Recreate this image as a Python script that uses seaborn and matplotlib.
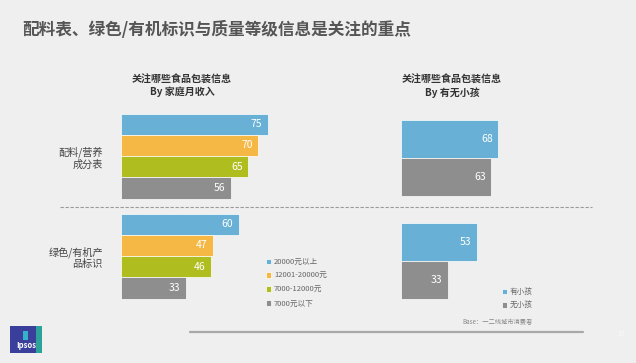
import pandas as pd
import numpy as np
import matplotlib.pyplot as plt
import seaborn as sns
from matplotlib.patches import Rectangle
from matplotlib.lines import Line2D

# 数据
items = ['配料/营养\n成分表', '绿色/有机产\n品标识']
income_levels = ['20000元以上', '12001-20000元', '7000-12000元', '7000元以下']
income_values = [[75, 70, 65, 56],   # 配料/营养成分表
                 [60, 47, 46, 33]]   # 绿色/有机产品标识
kid_levels = ['有小孩', '无小孩']
kid_values = [[68, 63],
              [53, 33]]

income_colors = ['#68B0D5', '#F6B845', '#AFBD1F', '#8E8E8E']
kid_colors = ['#68B0D5', '#8E8E8E']

title = '配料表、绿色/有机标识与质量等级信息是关注的重点'
sub_left = '关注哪些食品包装信息\nBy 家庭月收入'
sub_right = '关注哪些食品包装信息\nBy 有无小孩'

W, H = 636, 363
BG = '#EFEFEF'

sns.set_theme(style='white')
plt.rcParams['font.family'] = ['Noto Sans CJK SC', 'DejaVu Sans']
plt.rcParams['axes.unicode_minus'] = False


def px_axes(fig, x0, y0, x1, y1):
    # 用像素坐标建坐标轴（原点在左上）
    return fig.add_axes([x0 / W, 1 - y1 / H, (x1 - x0) / W, (y1 - y0) / H])


def long_table(values, levels):
    rows = []
    for i, item in enumerate(items):
        for j, lv in enumerate(levels):
            rows.append({'item': item, 'group': lv, 'value': values[i][j]})
    return pd.DataFrame(rows)


def label_bars(ax):
    for c in ax.containers:
        for p in c:
            ax.annotate(f'{p.get_width():.0f}',
                        xy=(p.get_x() + p.get_width(), p.get_y() + p.get_height() / 2),
                        xytext=(-4, 0), textcoords='offset points',
                        ha='right', va='center', color='white', fontsize=7.5)


def clean(ax):
    ax.set_facecolor('none')
    for s in ax.spines.values():
        s.set_visible(False)
    ax.set_xlabel('')
    ax.set_ylabel('')
    ax.set_xticks([])


fig = plt.figure(figsize=(W / 100, H / 100), dpi=100, facecolor=BG)

# 标题
fig.text(22 / W, 1 - 30 / H, title, fontsize=12, fontweight='bold',
         color='#555555', va='center', ha='left')

# 左图：家庭月收入
df_inc = long_table(income_values, income_levels)
ax1 = px_axes(fig, 121, 106, 317, 306)
sns.barplot(data=df_inc, y='item', x='value', hue='group', orient='h',
            hue_order=income_levels, palette=income_colors, width=0.85,
            saturation=1, edgecolor='white', linewidth=0.5, ax=ax1)
ax1.set_xlim(0, 100)
ax1.set_ylim(1.5, -0.5)
clean(ax1)
ax1.tick_params(axis='y', length=0, pad=13, labelsize=7.3, labelcolor='#444444')
for t in ax1.get_yticklabels():
    t.set_multialignment('right')
label_bars(ax1)
sns.move_legend(ax1, loc='upper left', bbox_to_anchor=(259 / W, 1 - 251 / H),
                bbox_transform=fig.transFigure, frameon=False, title=None,
                fontsize=5.5, handlelength=0.7, handleheight=0.7,
                handletextpad=0.35, labelspacing=0.78, labelcolor='#666666')

# 右图：有无小孩
df_kid = long_table(kid_values, kid_levels)
ax2 = px_axes(fig, 401, 106.5, 544, 312.5)
sns.barplot(data=df_kid, y='item', x='value', hue='group', orient='h',
            hue_order=kid_levels, palette=kid_colors, width=0.74,
            saturation=1, edgecolor='white', linewidth=0.5, ax=ax2)
ax2.set_xlim(0, 100)
ax2.set_ylim(1.5, -0.5)
clean(ax2)
ax2.set_yticks([])
label_bars(ax2)
sns.move_legend(ax2, loc='upper left', bbox_to_anchor=(495 / W, 1 - 281 / H),
                bbox_transform=fig.transFigure, frameon=False, title=None,
                fontsize=5.5, handlelength=0.7, handleheight=0.7,
                handletextpad=0.35, labelspacing=0.78, labelcolor='#666666')

# 小标题
fig.text(182 / W, 1 - 86 / H, sub_left, fontsize=7.2, fontweight='bold',
         color='#333333', ha='center', va='center', linespacing=1.25)
fig.text(452 / W, 1 - 86 / H, sub_right, fontsize=7.2, fontweight='bold',
         color='#333333', ha='center', va='center', linespacing=1.25)

# 分隔虚线
fig.add_artist(Line2D([60 / W, 592 / W], [1 - 207.5 / H] * 2,
                      transform=fig.transFigure, color='#9A9A9A',
                      linewidth=0.8, linestyle=(0, (3, 1.5))))

# 底部
fig.add_artist(Line2D([190 / W, 583 / W], [1 - 332 / H] * 2,
                      transform=fig.transFigure, color='#A8A8A8', linewidth=1.6))
fig.text(462 / W, 1 - 322 / H, 'Base：一二线城市消费者', fontsize=4.5,
         color='#888888', ha='left', va='center')
fig.text(621 / W, 1 - 334 / H, '17', fontsize=5, color='#FAFAFA',
         ha='center', va='center')

# Ipsos 标志
fig.add_artist(Rectangle((10 / W, 1 - 353 / H), 32 / W, 27 / H,
                         transform=fig.transFigure, facecolor='#3B3F9C',
                         edgecolor='none'))
fig.add_artist(Rectangle((36 / W, 1 - 353 / H), 6 / W, 27 / H,
                         transform=fig.transFigure, facecolor='#2BA39B',
                         edgecolor='none'))
fig.add_artist(Rectangle((23 / W, 1 - 340 / H), 5 / W, 9 / H,
                         transform=fig.transFigure, facecolor='#35B2C9',
                         edgecolor='none'))
fig.text(26 / W, 1 - 346 / H, 'Ipsos', fontsize=5.5, color='white',
         ha='center', va='center', fontweight='bold')

fig.savefig('out.png', dpi=100, facecolor=BG)
